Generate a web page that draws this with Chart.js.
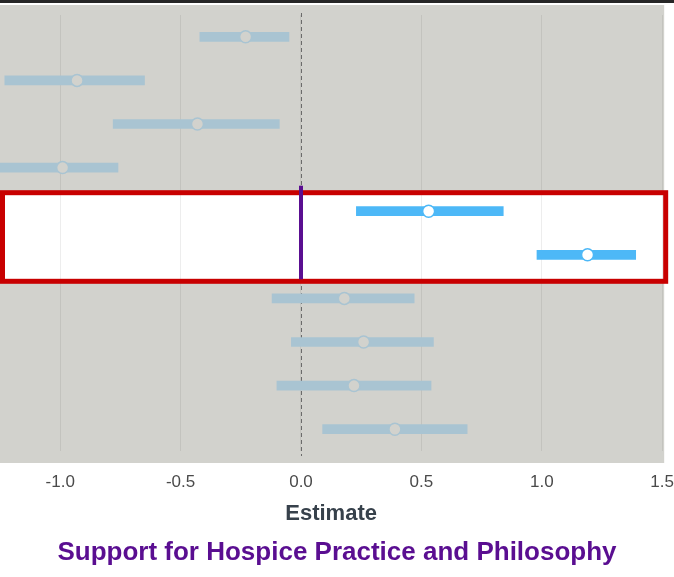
<!DOCTYPE html>
<html>
<head>
<meta charset="utf-8">
<script src="https://cdn.jsdelivr.net/npm/chart.js@4"></script>
<style>
  html, body { margin: 0; padding: 0; background: #fff; }
  #wrap { width: 674px; height: 577px; position: relative; }
</style>
</head>
<body>
<div id="wrap"><canvas id="myChart"></canvas></div>
<script>
// data
const rows = ['Item 1', 'Item 2', 'Item 3', 'Item 4', 'Item 5', 'Item 6', 'Item 7', 'Item 8', 'Item 9', 'Item 10'];
const estimates = [-0.23, -0.93, -0.43, -0.99, 0.53, 1.19, 0.18, 0.26, 0.22, 0.39];
const lower = [-0.42, -1.23, -0.78, -1.25, 0.23, 0.98, -0.12, -0.04, -0.10, 0.09];
const upper = [-0.05, -0.65, -0.09, -0.76, 0.84, 1.39, 0.47, 0.55, 0.54, 0.69];
const highlighted = [false, false, false, false, true, true, false, false, false, false];
const xTicks = [-1.0, -0.5, 0.0, 0.5, 1.0, 1.5];

const MUTED = '#a9c4d2';
const BRIGHT = '#4db8f7';
const PANEL = '#d2d2cd';
const PURPLE = '#5a0e91';

Chart.defaults.font.family = "'Liberation Sans', Arial, sans-serif";

// band edges around the highlighted rows
function bandEdges(chart) {
  const y = chart.scales.y;
  return {
    top: y.getPixelForValue(highlighted.indexOf(true)) - 18.5,
    bot: y.getPixelForValue(highlighted.lastIndexOf(true)) + 26.5
  };
}

// draws panel background, highlight band, zero lines
const backdrop = {
  id: 'backdrop',
  beforeDraw(chart) {
    const {ctx, chartArea: a} = chart;
    const {top, bot} = bandEdges(chart);
    ctx.save();
    ctx.fillStyle = '#fff';
    ctx.fillRect(0, 0, chart.width, chart.height);
    ctx.fillStyle = '#262626';
    ctx.fillRect(0, 0, chart.width, 3);
    ctx.fillStyle = PANEL;
    ctx.fillRect(a.left, a.top - 10, a.right - a.left + 2, a.bottom - a.top + 22);
    ctx.fillStyle = '#fff';
    ctx.fillRect(a.left, top, a.right - a.left + 4, bot - top);
    ctx.restore();
  },
  beforeDatasetsDraw(chart) {
    const {ctx, chartArea: a} = chart;
    const x0 = chart.scales.x.getPixelForValue(0);
    const {top, bot} = bandEdges(chart);
    ctx.save();
    // dashed zero line
    ctx.strokeStyle = '#6a6a6a';
    ctx.lineWidth = 1;
    ctx.setLineDash([4, 3]);
    ctx.beginPath();
    ctx.moveTo(x0 + 0.5, a.top - 2);
    ctx.lineTo(x0 + 0.5, a.bottom + 5);
    ctx.stroke();
    ctx.setLineDash([]);
    // red frame
    ctx.strokeStyle = '#c80000';
    ctx.lineWidth = 5;
    ctx.strokeRect(a.left + 2.5, top, a.right - a.left + 1, bot - top);
    // purple zero line in band
    ctx.strokeStyle = PURPLE;
    ctx.lineWidth = 4;
    ctx.beginPath();
    ctx.moveTo(x0, top - 7);
    ctx.lineTo(x0, bot - 2);
    ctx.stroke();
    ctx.restore();
  }
};

const data = {
  labels: rows,
  datasets: [{
    type: 'bar',
    data: lower.map((l, i) => [l, upper[i]]),
    backgroundColor: highlighted.map(h => h ? BRIGHT : MUTED),
    borderWidth: 0,
    barThickness: 9,
    order: 2
  }, {
    type: 'scatter',
    data: estimates.map((e, i) => ({x: e, y: rows[i]})),
    pointRadius: 6,
    pointBorderWidth: 1.5,
    pointBackgroundColor: highlighted.map(h => h ? '#fff' : PANEL),
    pointBorderColor: highlighted.map(h => h ? BRIGHT : MUTED),
    order: 1
  }]
};

const config = {
  type: 'bar',
  data,
  options: {
    indexAxis: 'y',
    responsive: true,
    maintainAspectRatio: false,
    animation: false,
    layout: { autoPadding: false, padding: { top: 15, left: 0, right: 0, bottom: 0 } },
    plugins: {
      legend: { display: false },
      tooltip: { enabled: false },
      title: {
        display: true,
        position: 'bottom',
        text: 'Support for Hospice Practice and Philosophy',
        color: PURPLE,
        font: { size: 26, weight: 'bold' },
        padding: { top: 0, bottom: 9 }
      }
    },
    scales: {
      x: {
        type: 'linear',
        min: -1.25,
        max: 1.5,
        afterBuildTicks: (scale) => { scale.ticks = xTicks.map(v => ({value: v})); },
        grid: { color: 'rgba(0,0,0,0.07)', drawTicks: true, tickLength: 21, tickColor: 'rgba(0,0,0,0)' },
        border: { display: false },
        ticks: {
          color: '#4a4a4a',
          font: { size: 17 },
          padding: 0,
          callback: (v) => Number(v).toFixed(1)
        },
        title: {
          display: true,
          text: 'Estimate',
          color: '#37414b',
          font: { size: 22, weight: 'bold' },
          padding: { top: 8, bottom: 10 }
        }
      },
      y: {
        type: 'category',
        display: false
      }
    }
  },
  plugins: [backdrop]
};

const myChart = new Chart(document.getElementById('myChart'), config);
</script>
</body>
</html>
